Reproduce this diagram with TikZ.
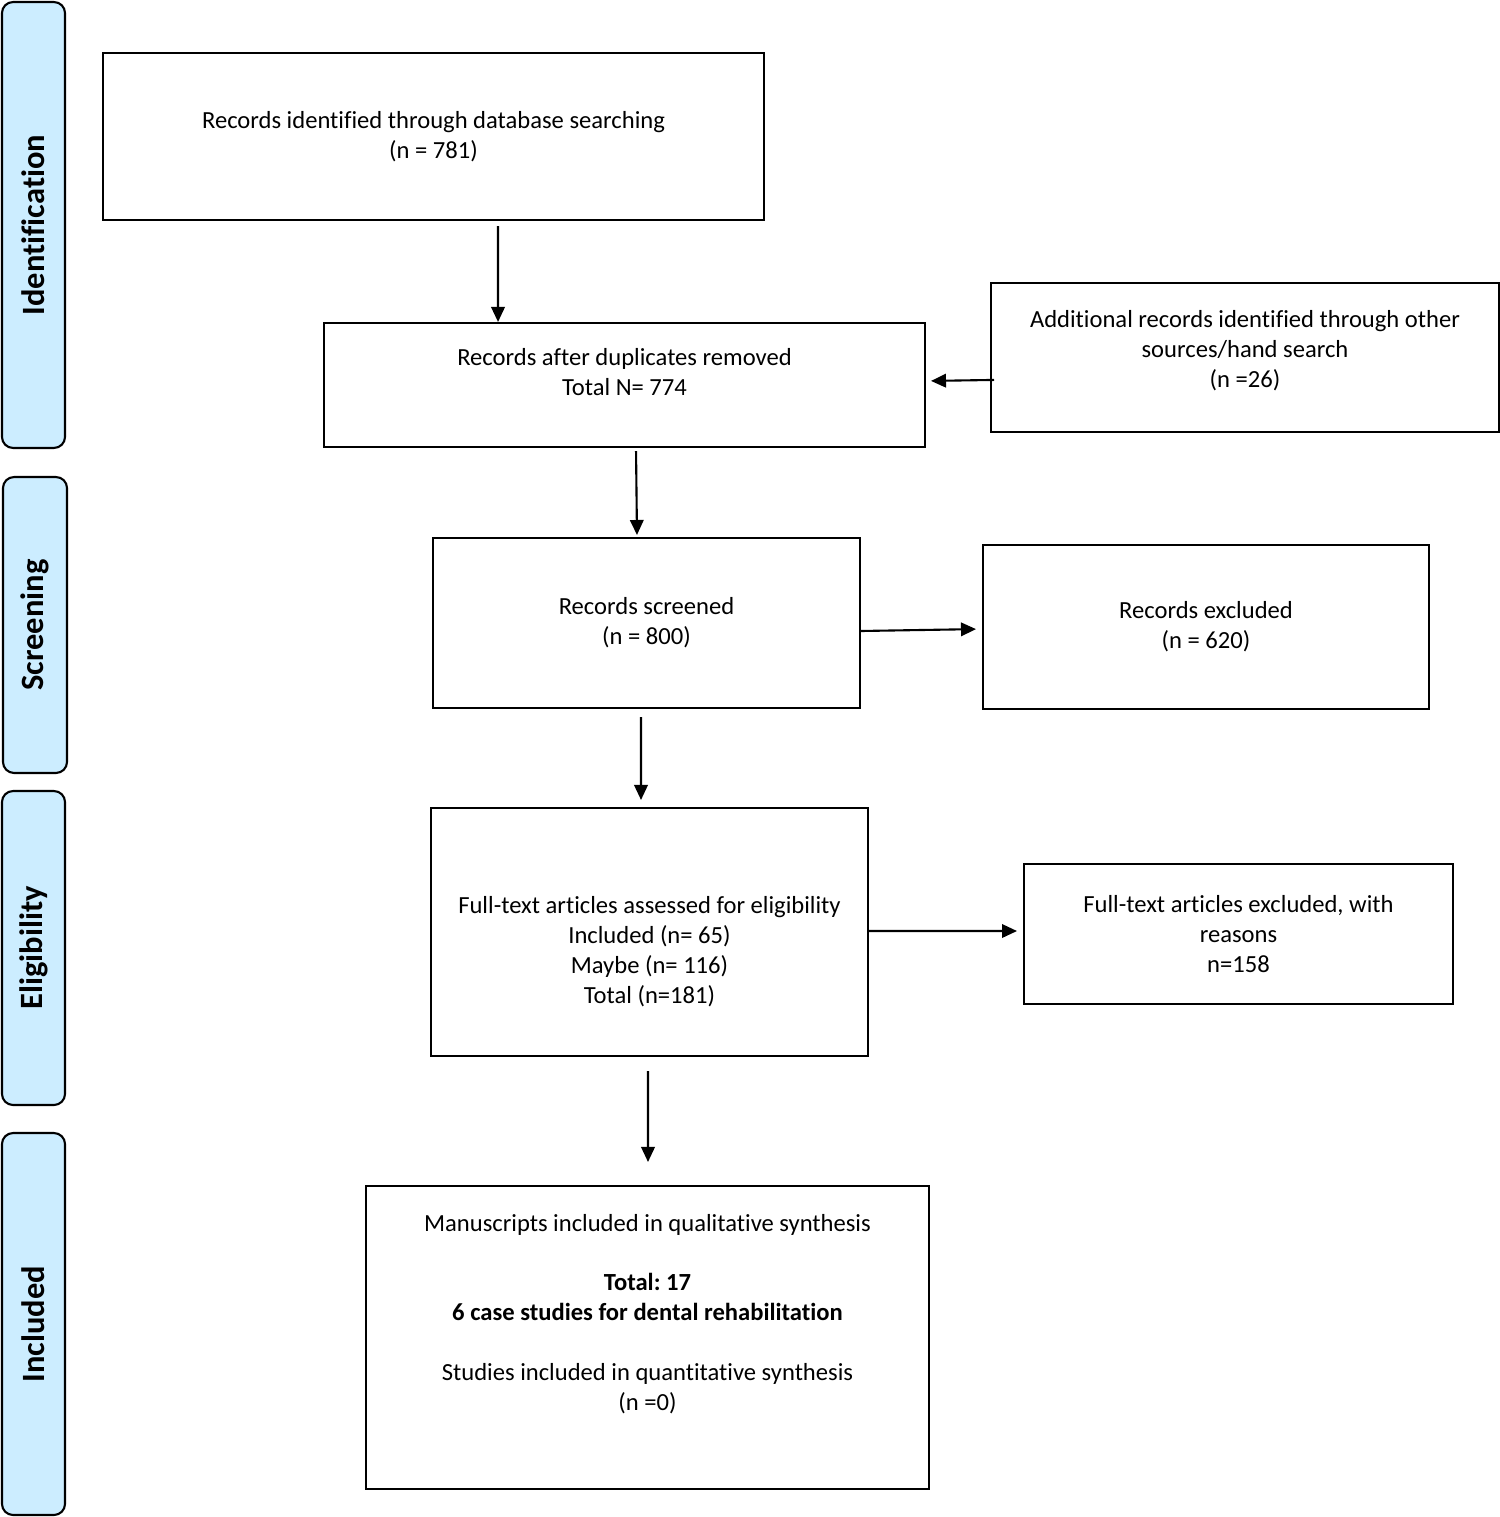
\documentclass[tikz,border=0pt]{standalone}
\usepackage{fontspec}
\setmainfont{Carlito}[Ligatures=NoCommon]
\usetikzlibrary{positioning}
\usetikzlibrary{arrows.meta}
\definecolor{bandblue}{HTML}{CCEDFF}
\tikzset{
  box/.style={draw, line width=1.2pt, align=center, inner sep=0pt,
    font=\fontsize{14pt}{17pt}\selectfont},
  band/.style={draw, line width=1.2pt, fill=bandblue, rounded corners=0.22cm,
    rotate=90, inner sep=0pt, font=\fontsize{18.5pt}{22pt}\selectfont\bfseries},
  arr/.style={-{Triangle[length=0.3cm,width=0.27cm]}, line width=1.2pt}
}
\frenchspacing
\begin{document}
\begin{tikzpicture}[x=0.02cm,y=-0.02cm]
\useasboundingbox (0,0) rectangle (1500,1517);
% phase bands
\node[band, minimum width=8.92cm, minimum height=1.26cm](ident) at (33.5,225) {Identification};
\node[band, minimum width=5.92cm, minimum height=1.28cm](screen) at (35,625) {Screening};
\node[band, minimum width=6.28cm, minimum height=1.26cm](elig) at (33.5,948) {Eligibility};
\node[band, minimum width=7.64cm, minimum height=1.26cm](incl) at (33.5,1324) {Included};
% boxes
\node[box, minimum width=13.22cm, minimum height=3.34cm](db) at (433.5,136.5)
  {Records identified through database searching\\(n = 781)};
\node[box, minimum width=12.02cm, minimum height=2.48cm](dup) at (624.5,385)
  {Records after duplicates removed\\Total N= 774\\[-2pt]~};
\node[box, minimum width=10.16cm, minimum height=2.98cm](other) at (1245,357.5)
  {Additional records identified through other\\sources/hand search\\(n =26)\\[-7pt]~};
\node[box, minimum width=8.54cm, minimum height=3.40cm](scr) at (646.5,623)
  {Records screened\\(n = 800)};
\node[box, minimum width=8.92cm, minimum height=3.28cm](excl) at (1206,627)
  {Records excluded\\(n = 620)};
\node[box, minimum width=8.74cm, minimum height=4.96cm](full) at (649.5,932)
  {~\\[15pt]Full-text articles assessed for eligibility\\Included (n= 65)\\Maybe (n= 116)\\Total (n=181)};
\node[box, minimum width=8.58cm, minimum height=2.80cm](fullex) at (1238.5,934)
  {Full-text articles excluded, with\\reasons\\n=158};
\node[box, minimum width=11.26cm, minimum height=6.06cm](qual) at (647.5,1337.5)
  {Manuscripts included in qualitative synthesis\\~\\\textbf{Total: 17}\\
   \textbf{6 case studies for dental rehabilitation}\\~\\
   Studies included in quantitative synthesis\\(n =0)\\[11.7pt]~};
% connectors
\path ([xshift=1.29cm]db.south) edge[arr, shorten <=0.1cm] ([xshift=-2.53cm]dup.north);
\path ([yshift=-0.45cm]other.west) edge[arr, shorten <=-0.08cm, shorten >=0.1cm] ([yshift=0.08cm]dup.east);
\path ([xshift=0.23cm]dup.south) edge[arr, shorten <=0.06cm, shorten >=0.04cm] ([xshift=-0.19cm]scr.north);
\path ([yshift=-0.16cm]scr.east) edge[arr, shorten >=0.12cm] ([yshift=-0.04cm]excl.west);
\path ([xshift=-0.11cm]scr.south) edge[arr, shorten <=0.16cm, shorten >=0.14cm] ([xshift=-0.17cm]full.north);
\path ([yshift=0.02cm]full.east) edge[arr, shorten >=0.12cm] ([yshift=0.06cm]fullex.west);
\path ([xshift=-0.03cm]full.south) edge[arr, shorten <=0.28cm, shorten >=0.46cm] ([xshift=0.01cm]qual.north);
\end{tikzpicture}
\end{document}
